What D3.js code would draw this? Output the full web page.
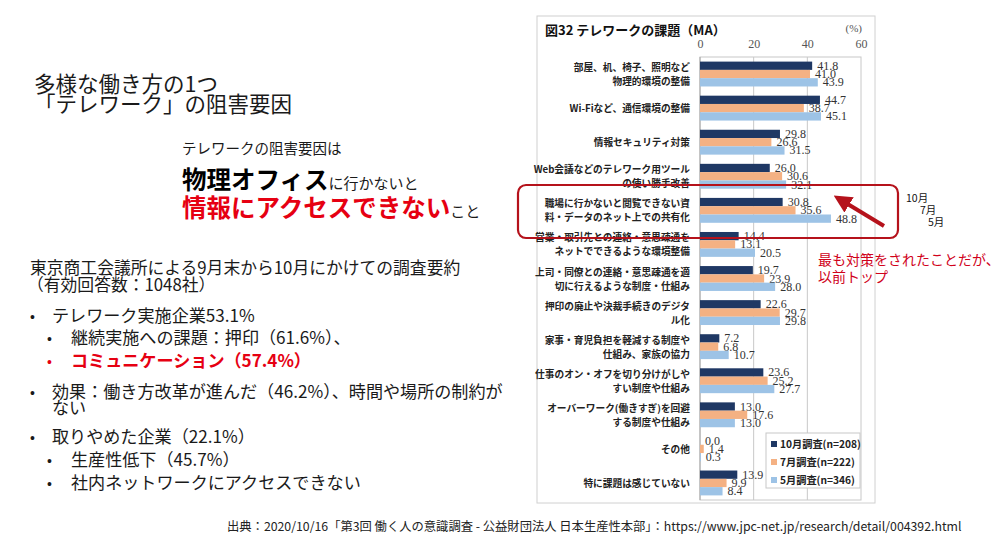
<!DOCTYPE html>
<html><head><meta charset="utf-8">
<script src="https://cdn.jsdelivr.net/npm/d3@7/dist/d3.min.js"></script>
<style>
html,body{margin:0;padding:0;background:#fff;}
svg{display:block;}
</style></head>
<body>
<svg id="c" width="1000" height="548"></svg>
<script>
const categories = [
  ["部屋、机、椅子、照明など","物理的環境の整備"],
  ["Wi-Fiなど、通信環境の整備"],
  ["情報セキュリティ対策"],
  ["Web会議などのテレワーク用ツール","の使い勝手改善"],
  ["職場に行かないと閲覧できない資","料・データのネット上での共有化"],
  ["営業・取引先との連絡・意思疎通を","ネットでできるような環境整備"],
  ["上司・同僚との連絡・意思疎通を適","切に行えるような制度・仕組み"],
  ["押印の廃止や決裁手続きのデジタ","ル化"],
  ["家事・育児負担を軽減する制度や","仕組み、家族の協力"],
  ["仕事のオン・オフを切り分けがしや","すい制度や仕組み"],
  ["オーバーワーク(働きすぎ)を回避","する制度や仕組み"],
  ["その他"],
  ["特に課題は感じていない"]
];
const octValues = [41.8, 44.7, 29.8, 26.0, 30.8, 14.4, 19.7, 22.6, 7.2, 23.6, 13.0, 0.0, 13.9];
const julValues = [41.0, 38.7, 26.6, 30.6, 35.6, 13.1, 23.9, 29.7, 6.8, 25.2, 17.6, 1.4, 9.9];
const mayValues = [43.9, 45.1, 31.5, 32.1, 48.8, 20.5, 28.0, 29.8, 10.7, 27.7, 13.0, 0.3, 8.4];
const seriesNames = ["10月調査(n=208)", "7月調査(n=222)", "5月調査(n=346)"];
const seriesColors = ["#1f3864", "#f4b183", "#9dc3e6"];
const xTicks = [0, 20, 40, 60];

const svg = d3.select("#c");
const JP = "'Noto Sans CJK JP', 'Noto Sans', sans-serif";
const SERIF = "'Liberation Serif', 'DejaVu Serif', serif";

// ---------- Left text ----------
const left = svg.append("g").attr("font-family", JP).attr("fill", "#1a1a1a");
left.append("text").attr("x", 34).attr("y", 92).attr("font-size", 21.5).text("多様な働き方の1つ");
left.append("text").attr("x", 34).attr("y", 112).attr("font-size", 21.5).text("「テレワーク」の阻害要因");

left.append("text").attr("x", 182).attr("y", 154).attr("font-size", 14.5).text("テレワークの阻害要因は");
const l2 = left.append("text").attr("x", 182).attr("y", 189);
l2.append("tspan").attr("font-size", 24.5).attr("font-weight", "bold").attr("fill", "#000").text("物理オフィス");
l2.append("tspan").attr("font-size", 15).text("に行かないと");
const l3 = left.append("text").attr("x", 182).attr("y", 217);
l3.append("tspan").attr("font-size", 24.5).attr("font-weight", "bold").attr("fill", "#e60012").text("情報にアクセスできない");
l3.append("tspan").attr("font-size", 15).text("こと");

left.append("text").attr("x", 30).attr("y", 274).attr("font-size", 16.8).text("東京商工会議所による9月末から10月にかけての調査要約");
left.append("text").attr("x", 27).attr("y", 291).attr("font-size", 16.8).text("（有効回答数：1048社）");
const fsB = 17.1;
const bullets = [
  {bx: 30, tx: 52, y: 322, t: "テレワーク実施企業53.1%"},
  {bx: 47, tx: 71, y: 344, t: "継続実施への課題：押印（61.6%）、"},
  {bx: 47, tx: 71, y: 367, t: "コミュニケーション（57.4%）", red: true},
  {bx: 30, tx: 52, y: 398, t: "効果：働き方改革が進んだ（46.2%）、時間や場所の制約が"},
  {bx: null, tx: 52, y: 414, t: "ない"},
  {bx: 30, tx: 52, y: 443, t: "取りやめた企業（22.1%）"},
  {bx: 47, tx: 71, y: 466, t: "生産性低下（45.7%）"},
  {bx: 47, tx: 71, y: 489, t: "社内ネットワークにアクセスできない"}
];
bullets.forEach(b => {
  const col = b.red ? "#e60012" : "#1a1a1a";
  if (b.bx !== null) left.append("text").attr("x", b.bx).attr("y", b.y).attr("font-size", 14)
      .attr("font-family", "'Liberation Sans', Arial, sans-serif").attr("fill", col).text("•");
  left.append("text").attr("x", b.tx).attr("y", b.y).attr("font-size", fsB)
      .attr("fill", col).attr("font-weight", b.red ? "bold" : "normal").text(b.t);
});

svg.append("text").attr("x", 227).attr("y", 531).attr("font-family", JP).attr("font-size", 12.3)
  .attr("fill", "#222").text("出典：2020/10/16「第3回 働く人の意識調査 - 公益財団法人 日本生産性本部」：https://www.jpc-net.jp/research/detail/004392.html");

// ---------- Chart ----------
const chart = svg.append("g");
chart.append("rect").attr("x", 537).attr("y", 16).attr("width", 338).attr("height", 487)
  .attr("fill", "#fff").attr("stroke", "#d0d0d0").attr("stroke-width", 1);
chart.append("text").attr("x", 545).attr("y", 35).attr("font-family", JP).attr("font-size", 13)
  .attr("font-weight", "bold").attr("fill", "#111").text("図32 テレワークの課題（MA）");
chart.append("text").attr("x", 862).attr("y", 32).attr("font-family", SERIF).attr("font-size", 11)
  .attr("text-anchor", "end").attr("fill", "#555").text("(%)");

const x = d3.scaleLinear().domain([0, 60]).range([700, 861]);
const y = d3.scaleBand().domain(d3.range(categories.length)).range([57, 500])
  .paddingInner(0.27).paddingOuter(0.135);
const ys = d3.scaleBand().domain(d3.range(3)).range([0, y.bandwidth()]);

// plot area + grid
chart.append("rect").attr("x", x(0)).attr("y", 57).attr("width", x(60) - x(0)).attr("height", 443)
  .attr("fill", "none").attr("stroke", "#c8c8c8");
chart.selectAll("line.grid").data(xTicks.slice(1, -1)).join("line").attr("class", "grid")
  .attr("x1", d => x(d)).attr("x2", d => x(d)).attr("y1", 57).attr("y2", 500)
  .attr("stroke", "#c8c8c8");
chart.append("line").attr("x1", x(0)).attr("x2", x(0)).attr("y1", 57).attr("y2", 500).attr("stroke", "#a6a6a6");

const ax = chart.append("g").attr("transform", "translate(0,57)")
  .call(d3.axisTop(x).tickValues(xTicks).tickSize(0).tickPadding(9));
ax.select(".domain").remove();
ax.selectAll("text").attr("font-family", SERIF).attr("font-size", 12).attr("fill", "#555");

// category labels
const catG = chart.append("g").attr("font-family", JP).attr("font-size", 9.7)
  .attr("font-weight", "bold").attr("fill", "#222").attr("text-anchor", "end");
categories.forEach((lines, i) => {
  const cy = y(i) + y.bandwidth() / 2;
  const n = lines.length;
  lines.forEach((ln, j) => {
    catG.append("text").attr("x", 690).attr("y", cy + (j - (n - 1) / 2) * 14 + 4).text(ln);
  });
});

// bars
const series = [octValues, julValues, mayValues];
series.forEach((vals, s) => {
  const g = chart.append("g");
  g.selectAll("rect").data(vals).join("rect")
    .attr("x", x(0)).attr("y", (d, i) => y(i) + ys(s))
    .attr("width", d => x(d) - x(0)).attr("height", ys.bandwidth())
    .attr("fill", seriesColors[s]);
  g.selectAll("text").data(vals).join("text")
    .attr("x", d => x(d) + 5).attr("y", (d, i) => y(i) + ys(s) + ys.bandwidth() / 2 + 4)
    .attr("font-family", SERIF).attr("font-size", 12).attr("fill", "#333")
    .text(d => d.toFixed(1));
});

// legend
const lg = chart.append("g");
lg.append("rect").attr("x", 766).attr("y", 433).attr("width", 94).attr("height", 55)
  .attr("fill", "#fff").attr("stroke", "#c8c8c8");
seriesNames.forEach((nm, i) => {
  const ly = 444 + i * 18;
  lg.append("rect").attr("x", 771).attr("y", ly - 3).attr("width", 6).attr("height", 6).attr("fill", seriesColors[i]);
  lg.append("text").attr("x", 780).attr("y", ly + 4).attr("font-family", JP).attr("font-size", 10.2)
    .attr("font-weight", "bold").attr("fill", "#222").text(nm);
});

// ---------- annotation ----------
const red = "#b5121b";
svg.append("rect").attr("x", 518).attr("y", 185).attr("width", 380).attr("height", 53)
  .attr("rx", 8).attr("ry", 8).attr("fill", "none").attr("stroke", red).attr("stroke-width", 2.2);
svg.append("defs").append("marker").attr("id", "ah").attr("viewBox", "0 0 10 10")
  .attr("refX", 2).attr("refY", 5).attr("markerWidth", 4.5).attr("markerHeight", 4.5)
  .attr("orient", "auto").append("path").attr("d", "M0,0 L10,5 L0,10 z").attr("fill", red);
svg.append("line").attr("x1", 884).attr("y1", 226).attr("x2", 846).attr("y2", 203)
  .attr("stroke", red).attr("stroke-width", 4).attr("marker-end", "url(#ah)");

const mg = svg.append("g").attr("font-family", JP).attr("font-size", 10.5).attr("fill", "#111");
mg.append("text").attr("x", 906).attr("y", 202).text("10月");
mg.append("text").attr("x", 920).attr("y", 214).text("7月");
mg.append("text").attr("x", 928).attr("y", 226).text("5月");

const rt = svg.append("g").attr("font-family", JP).attr("font-size", 14).attr("fill", "#d0021b");
rt.append("text").attr("x", 818).attr("y", 265).text("最も対策をされたことだが、");
rt.append("text").attr("x", 818).attr("y", 282).text("以前トップ");
</script>
</body></html>
